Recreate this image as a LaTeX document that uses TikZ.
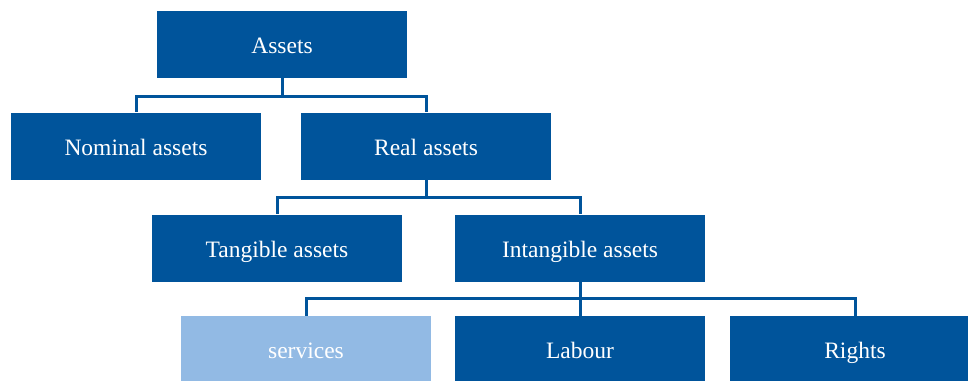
\documentclass[tikz,border=0pt]{standalone}
\usepackage{fontspec}
\setmainfont{Liberation Serif}
\definecolor{darkblue}{RGB}{0,84,155}
\definecolor{lightblue}{RGB}{146,186,228}
\begin{document}
\begin{tikzpicture}[x=1pt,y=-1pt,
  box/.style={rectangle, fill=darkblue, text=white, minimum width=250pt, minimum height=67pt, inner sep=0pt, text height=20pt, text depth=2pt, font=\fontsize{23.5}{27}\selectfont},
  lightbox/.style={box, fill=lightblue},
  link/.style={draw=darkblue, line width=3pt}]
\useasboundingbox (0,0) rectangle (968,380);
\node[box] (assets) at (282,44.5) {Assets};
\node[box] (nominal) at (136,146) {Nominal assets};
\node[box] (real) at (426,146) {Real assets};
\node[box] (tangible) at (277,248) {Tangible assets};
\node[box] (intangible) at (580,248) {Intangible assets};
\node[lightbox, minimum height=66pt] (services) at (306,349) {services};
\node[box, minimum height=66pt] (labour) at (580,349) {Labour};
\node[box, minimum height=66pt] (rights) at (855,349) {Rights};
\coordinate (b1) at (282,96);
\coordinate (b2) at (426,197);
\coordinate (b3) at (580,298);
\draw[link] (assets.south) -- (b1) -| (nominal.north);
\draw[link] (b1) -| (real.north);
\draw[link] (real.south) -- (b2) -| (tangible.north);
\draw[link] (b2) -| (intangible.north);
\draw[link] (intangible.south) -- (labour.north);
\draw[link] (b3) -| (services.north);
\draw[link] (b3) -| (rights.north);
\end{tikzpicture}
\end{document}
